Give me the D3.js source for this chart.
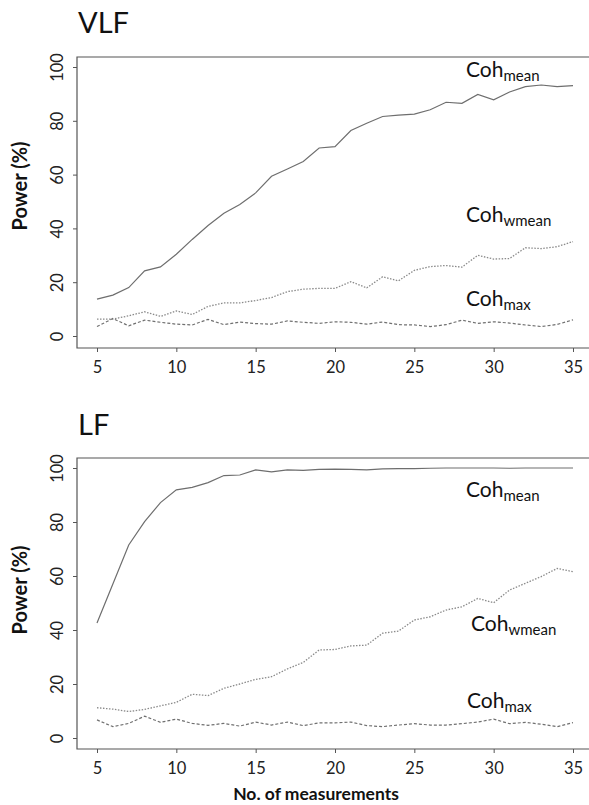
<!DOCTYPE html>
<html>
<head>
<meta charset="utf-8">
<script src="https://cdn.jsdelivr.net/npm/d3@7"></script>
<style>
  body { margin: 0; background: #fff; }
  svg { display: block; font-family: Lato, "Open Sans", sans-serif; }
</style>
</head>
<body>
<svg id="chart" width="589" height="805"></svg>
<script>
// number of measurements (x)
const nMeas = [5, 6, 7, 8, 9, 10, 11, 12, 13, 14, 15, 16, 17, 18, 19, 20,
  21, 22, 23, 24, 25, 26, 27, 28, 29, 30, 31, 32, 33, 34, 35];
const xTicks = [5, 10, 15, 20, 25, 30, 35];
const yTicks = [0, 20, 40, 60, 80, 100];

// VLF power (%)
const vlfMean = [13.7, 15.2, 18.0, 24.2, 25.7, 30.4, 35.9, 41.1, 45.6, 48.9, 53.2, 59.4, 62.1, 64.9, 69.9, 70.4,
  76.4, 79.1, 81.6, 82.1, 82.5, 84.1, 86.9, 86.5, 89.8, 87.8, 90.7, 92.7, 93.3, 92.7, 93.1];
const vlfWmean = [6.3, 6.3, 7.5, 9.0, 7.3, 9.3, 8.0, 11.0, 12.3, 12.3, 13.2, 14.3, 16.5, 17.4, 17.7, 17.7,
  20.2, 17.9, 22.0, 20.5, 24.4, 25.8, 26.2, 25.6, 30.0, 28.6, 28.8, 32.8, 32.5, 33.2, 35.1];
const vlfMax = [3.5, 6.5, 3.8, 5.9, 5.1, 4.4, 4.1, 6.2, 4.2, 5.2, 4.6, 4.4, 5.6, 5.1, 4.7, 5.3,
  5.1, 4.4, 5.2, 4.2, 4.1, 3.5, 4.2, 5.9, 4.7, 5.3, 4.8, 4.1, 3.5, 4.3, 6.0];

// LF power (%)
const lfMean = [42.6, 57.0, 71.5, 80.1, 87.2, 91.9, 92.8, 94.6, 97.2, 97.4, 99.3, 98.6, 99.3, 99.1, 99.5, 99.6,
  99.5, 99.3, 99.7, 99.8, 99.8, 99.9, 100, 100, 100, 100, 99.9, 100, 100, 100, 100];
const lfWmean = [11.2, 10.7, 9.8, 10.6, 11.9, 13.2, 16.2, 15.7, 18.4, 20.0, 21.7, 22.7, 25.6, 28.0, 32.6, 32.8,
  34.1, 34.4, 38.8, 39.6, 43.7, 44.9, 47.4, 48.6, 51.7, 50.1, 54.8, 57.3, 59.8, 62.8, 61.6];
const lfMax = [6.7, 4.2, 5.4, 8.1, 5.8, 7.0, 5.4, 4.7, 5.4, 4.4, 5.9, 4.8, 5.9, 4.6, 5.6, 5.6,
  5.9, 4.6, 4.2, 4.8, 5.3, 4.8, 4.8, 5.3, 5.9, 7.0, 5.3, 5.8, 5.1, 4.2, 5.7];

const svg = d3.select("#chart");
const lineColor = "#6e6e6e";

const x = d3.scaleLinear().domain([5, 35]).range([97, 573]);

function drawPanel(opt) {
  const y = d3.scaleLinear().domain([0, 100]).range([opt.y0, opt.y100]);
  const g = svg.append("g");

  // title
  g.append("text").attr("x", 78).attr("y", opt.titleY)
    .attr("font-size", 29).attr("fill", "#111").text(opt.title);

  // box (open on right, cropped)
  g.append("path")
    .attr("d", "M589," + opt.boxTop + "H77V" + opt.boxBottom + "H589")
    .attr("fill", "none").attr("stroke", "#555").attr("stroke-width", 1.2);

  // y axis
  const ya = g.append("g").attr("transform", "translate(77,0)")
    .call(d3.axisLeft(y).tickValues(yTicks).tickSize(4).tickFormat(d3.format("d")));
  ya.select(".domain").remove();
  ya.selectAll(".tick line").attr("stroke", "#555");
  ya.selectAll(".tick text")
    .attr("transform", "rotate(-90)")
    .attr("x", 0).attr("y", -14).attr("dy", 0)
    .attr("text-anchor", "middle")
    .attr("font-size", 16.5).attr("font-family", "Lato, sans-serif").attr("fill", "#222");

  // x axis
  const xa = g.append("g").attr("transform", "translate(0," + opt.boxBottom + ")")
    .call(d3.axisBottom(x).tickValues(xTicks).tickSize(4));
  xa.select(".domain").remove();
  xa.selectAll(".tick line").attr("stroke", "#555");
  xa.selectAll(".tick text").attr("y", 13).attr("dy", "0.71em")
    .attr("font-size", 16.5).attr("font-family", "Lato, sans-serif").attr("fill", "#222");

  // y label
  g.append("text")
    .attr("transform", "translate(27," + opt.ylabY + ") rotate(-90)")
    .attr("text-anchor", "middle").attr("font-size", 20).attr("font-weight", "bold")
    .attr("fill", "#111").text("Power (%)");

  const line = d3.line().x((d, i) => x(nMeas[i])).y(d => y(d));
  const series = [
    { v: opt.mean, dash: null, color: lineColor, w: 1.2 },
    { v: opt.wmean, dash: "1.5,1.5", color: "#8a8a8a", w: 1.3 },
    { v: opt.max, dash: "3,2", color: "#707070", w: 1.2 }
  ];
  series.forEach(s => {
    g.append("path").datum(s.v)
      .attr("d", line).attr("fill", "none")
      .attr("stroke", s.color).attr("stroke-width", s.w)
      .attr("stroke-dasharray", s.dash);
  });

  // labels
  opt.labels.forEach(l => {
    const t = g.append("text").attr("x", l.x).attr("y", l.y)
      .attr("font-size", 21).attr("fill", "#111");
    t.append("tspan").text("Coh");
    t.append("tspan").attr("dy", 4).attr("font-size", 15).text(l.sub);
  });
}

drawPanel({
  title: "VLF", titleY: 33, boxTop: 57, boxBottom: 348, y0: 336, y100: 67, ylabY: 186,
  mean: vlfMean, wmean: vlfWmean, max: vlfMax,
  labels: [
    { x: 466, y: 77, sub: "mean" },
    { x: 466, y: 222, sub: "wmean" },
    { x: 466, y: 306, sub: "max" }
  ]
});

drawPanel({
  title: "LF", titleY: 435, boxTop: 458, boxBottom: 749, y0: 738, y100: 468, ylabY: 590,
  mean: lfMean, wmean: lfWmean, max: lfMax,
  labels: [
    { x: 466, y: 497, sub: "mean" },
    { x: 471, y: 631, sub: "wmean" },
    { x: 467, y: 708, sub: "max" }
  ]
});

svg.append("text").attr("x", 316).attr("y", 800)
  .attr("text-anchor", "middle").attr("font-size", 17.5).attr("font-weight", "bold")
  .attr("fill", "#111").text("No. of measurements");
</script>
</body>
</html>
